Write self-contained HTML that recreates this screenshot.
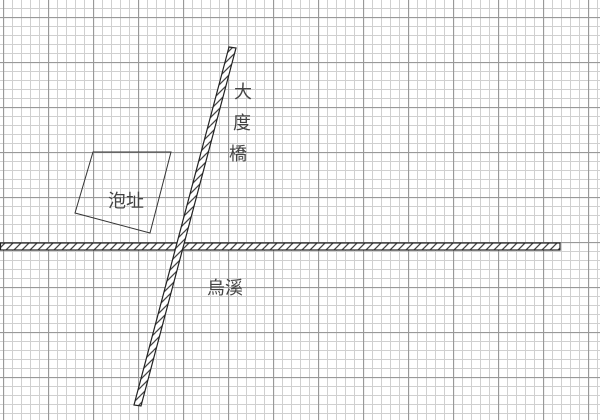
<!DOCTYPE html>
<html><head><meta charset="utf-8"><style>
html,body{margin:0;padding:0;background:#fff;}
svg{display:block;}
text{font-family:"Liberation Sans","Noto Sans CJK TC",sans-serif;font-size:18px;fill:#444;}
</style></head><body>
<svg width="600" height="420" viewBox="0 0 600 420" xmlns="http://www.w3.org/2000/svg">
<defs>
<pattern id="minor" x="3" y="-1" width="9" height="9" patternUnits="userSpaceOnUse">
<path d="M0.5 0V9M0 0.5H9" stroke="#d0d0d0" stroke-width="1" fill="none"/>
</pattern>
<pattern id="major" x="3" y="-28" width="45" height="45" patternUnits="userSpaceOnUse">
<path d="M0.5 0V45M0 0.5H45" stroke="#999" stroke-width="1.3" fill="none"/>
</pattern>
<pattern id="hatch" width="8" height="8" patternUnits="userSpaceOnUse">
<path d="M-2 10L10 -2M-2 2L2 -2M6 10L10 6" stroke="#444" stroke-width="1.3"/>
</pattern>
</defs>
<rect width="600" height="420" fill="#fff"/>
<rect width="600" height="420" fill="url(#minor)"/>
<rect width="600" height="420" fill="url(#major)"/>
<polygon points="93,152 171,152 150,233 75,213" fill="none" stroke="#333" stroke-width="1"/>
<rect x="0.5" y="243" width="559.5" height="7" fill="#fff"/>
<rect x="0.5" y="243" width="559.5" height="7" fill="url(#hatch)" stroke="#222" stroke-width="1.2"/>
<polygon points="229,47 236,48 141,406 134,405" fill="#fff"/>
<polygon points="229,47 236,48 141,406 134,405" fill="url(#hatch)" stroke="#222" stroke-width="1.2"/>
<text x="234" y="98">大</text>
<text x="233" y="129">度</text>
<text x="229" y="160">橋</text>
<text x="108" y="207">泡址</text>
<text x="207" y="294">烏溪</text>
</svg>
</body></html>
